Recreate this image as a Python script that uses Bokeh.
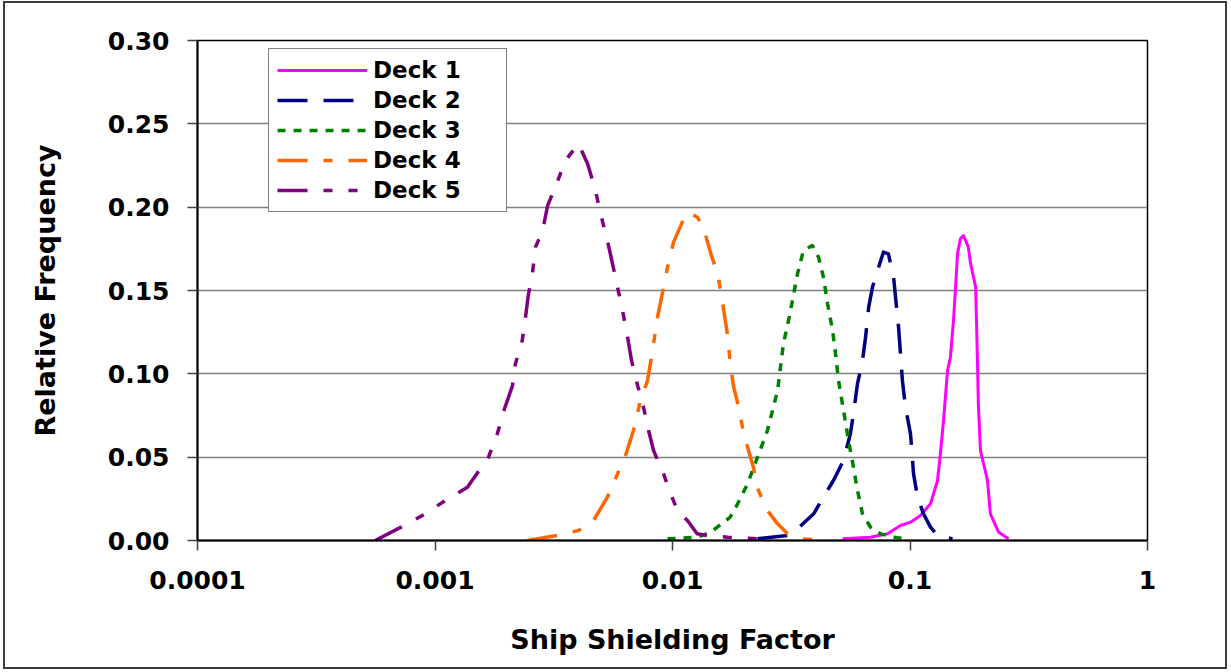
from bokeh.plotting import figure
from bokeh.models import FixedTicker, NumeralTickFormatter, Legend, LegendItem, Range1d
from bokeh.embed import file_html
from bokeh.resources import INLINE

# ---- data ----
x_ticks = [0.0001, 0.001, 0.01, 0.1, 1]
x_tick_labels = ["0.0001", "0.001", "0.01", "0.1", "1"]
y_ticks = [0.0, 0.05, 0.10, 0.15, 0.20, 0.25, 0.30]

names = ["Deck 1", "Deck 2", "Deck 3", "Deck 4", "Deck 5"]

deck1_x = [5.20e-2, 6.82e-2, 8.04e-2, 9.12e-2, 0.1005, 0.1107, 0.122, 0.1306, 0.1343, 0.1384,
           0.1439, 0.148, 0.1524, 0.1556, 0.1585, 0.163, 0.168, 0.176, 0.180, 0.189,
           0.192, 0.194, 0.198, 0.212, 0.218, 0.236, 0.260]
deck1_y = [0.001, 0.002, 0.004, 0.009, 0.011, 0.015, 0.022, 0.036, 0.052, 0.072,
           0.102, 0.110, 0.132, 0.152, 0.172, 0.181, 0.183, 0.176, 0.166, 0.152,
           0.112, 0.082, 0.054, 0.036, 0.016, 0.005, 0.001]

deck2_x = [2.28e-2, 3.05e-2, 3.36e-2, 3.93e-2, 4.32e-2, 4.76e-2, 5.25e-2, 5.61e-2, 5.78e-2, 6.01e-2,
           6.31e-2, 6.50e-2, 6.70e-2, 6.95e-2, 7.30e-2, 7.73e-2, 8.11e-2, 8.53e-2, 8.69e-2, 8.95e-2,
           9.29e-2, 9.57e-2, 0.1005, 0.1035, 0.1076, 0.114, 0.122, 0.1306, 0.151]
deck2_y = [0.001, 0.003, 0.007, 0.016, 0.026, 0.036, 0.048, 0.064, 0.076, 0.094,
           0.108, 0.122, 0.140, 0.152, 0.162, 0.173, 0.172, 0.158, 0.146, 0.128,
           0.096, 0.080, 0.064, 0.040, 0.026, 0.016, 0.008, 0.003, 0.001]

deck3_x = [9.53e-3, 1.27e-2, 1.45e-2, 1.75e-2, 1.88e-2, 2.07e-2, 2.28e-2, 2.51e-2, 2.77e-2, 2.93e-2,
           3.08e-2, 3.20e-2, 3.36e-2, 3.56e-2, 3.88e-2, 4.12e-2, 4.32e-2, 4.50e-2, 4.72e-2, 4.86e-2,
           5.00e-2, 5.25e-2, 5.51e-2, 5.78e-2, 6.01e-2, 6.31e-2, 6.82e-2, 7.52e-2, 8.53e-2, 9.76e-2]
deck3_y = [0.001, 0.002, 0.005, 0.014, 0.022, 0.034, 0.050, 0.066, 0.090, 0.118,
           0.132, 0.144, 0.160, 0.174, 0.177, 0.170, 0.158, 0.142, 0.126, 0.112,
           0.096, 0.078, 0.060, 0.044, 0.030, 0.016, 0.008, 0.004, 0.002, 0.001]

deck4_x = [2.45e-3, 3.28e-3, 4.02e-3, 4.65e-3, 5.32e-3, 5.87e-3, 6.34e-3, 6.85e-3, 7.33e-3, 7.85e-3,
           8.24e-3, 8.65e-3, 9.17e-3, 9.53e-3, 1.01e-2, 1.10e-2, 1.167e-2, 1.27e-2, 1.35e-2, 1.45e-2,
           1.55e-2, 1.62e-2, 1.71e-2, 1.75e-2, 1.81e-2, 1.90e-2, 1.97e-2, 2.07e-2, 2.19e-2, 2.30e-2,
           2.51e-2, 2.77e-2, 3.05e-2, 3.46e-2, 4.50e-2]
deck4_y = [0.000, 0.003, 0.006, 0.012, 0.026, 0.040, 0.051, 0.066, 0.084, 0.096,
           0.114, 0.134, 0.152, 0.164, 0.179, 0.191, 0.197, 0.194, 0.188, 0.172,
           0.160, 0.144, 0.122, 0.106, 0.092, 0.080, 0.068, 0.056, 0.044, 0.030,
           0.018, 0.010, 0.004, 0.001, 0.000]

deck5_x = [5.6e-4, 7.2e-4, 8.85e-4, 1.105e-3, 1.37e-3, 1.68e-3, 1.83e-3, 1.94e-3, 2.12e-3, 2.18e-3,
           2.33e-3, 2.40e-3, 2.47e-3, 2.57e-3, 2.65e-3, 2.84e-3, 2.98e-3, 3.21e-3, 3.54e-3, 4.02e-3,
           4.39e-3, 4.74e-3, 4.98e-3, 5.32e-3, 5.59e-3, 5.87e-3, 6.16e-3, 6.47e-3, 6.72e-3, 7.13e-3,
           7.55e-3, 7.93e-3, 8.32e-3, 9.17e-3, 9.82e-3, 1.05e-2, 1.156e-2, 1.27e-2, 1.40e-2, 1.71e-2,
           2.28e-2]
deck5_y = [0.000, 0.008, 0.015, 0.024, 0.032, 0.050, 0.064, 0.077, 0.093, 0.106,
           0.120, 0.133, 0.147, 0.160, 0.176, 0.186, 0.201, 0.212, 0.228, 0.238,
           0.226, 0.210, 0.196, 0.180, 0.166, 0.152, 0.138, 0.122, 0.108, 0.093,
           0.080, 0.066, 0.054, 0.040, 0.028, 0.018, 0.012, 0.004, 0.003, 0.002,
           0.001]

series_x = [deck1_x, deck2_x, deck3_x, deck4_x, deck5_x]
series_y = [deck1_y, deck2_y, deck3_y, deck4_y, deck5_y]

# ---- styles ----
colors = ["#FF00FF", "#000080", "#008000", "#FF6600", "#800080"]
dashes = ["solid", "30 16", "8 8", "30 16 9 16", "30 16 9 16 9 16"]
widths = [3.0, 3.5, 3.5, 3.5, 3.5]
FONT = "DejaVu Sans"

p = figure(width=1224, height=668, x_axis_type="log",
           x_range=Range1d(1e-4, 1), y_range=Range1d(0, 0.30),
           output_backend="svg", toolbar_location=None,
           min_border_left=192, min_border_right=82,
           min_border_top=37, min_border_bottom=131)
p.styles = {"border": "2px solid #3c3c3c", "margin-left": "3px", "margin-top": "1px"}

p.background_fill_color = "white"
p.border_fill_color = "white"
p.outline_line_color = "black"
p.outline_line_width = 1.5

p.xgrid.grid_line_color = None
p.ygrid.grid_line_color = "#808080"
p.ygrid.grid_line_width = 1.5
p.ygrid.ticker = FixedTicker(ticks=y_ticks)

# x axis
p.xaxis.ticker = FixedTicker(ticks=x_ticks, minor_ticks=[])
p.xaxis.major_label_overrides = {t: l for t, l in zip(x_ticks, x_tick_labels)}
p.xaxis.axis_label = "Ship Shielding Factor"
# y axis
p.yaxis.ticker = FixedTicker(ticks=y_ticks, minor_ticks=[])
p.yaxis.formatter = NumeralTickFormatter(format="0.00")
p.yaxis.axis_label = "Relative Frequency"

for ax in (p.xaxis[0], p.yaxis[0]):
    ax.axis_line_color = "black"
    ax.axis_line_width = 2
    ax.major_tick_line_color = "#404040"
    ax.major_tick_line_width = 1.5
    ax.major_tick_in = 0
    ax.major_tick_out = 10
    ax.minor_tick_line_color = None
    ax.major_label_text_font = FONT
    ax.major_label_text_font_style = "bold"
    ax.major_label_text_font_size = "25px"
    ax.major_label_text_color = "black"
    ax.axis_label_text_font = FONT
    ax.axis_label_text_font_style = "bold"
    ax.axis_label_text_font_size = "27px"
    ax.axis_label_text_color = "black"

p.xaxis.major_label_standoff = 20
p.xaxis.axis_label_standoff = 32
p.yaxis.major_label_standoff = 18
p.yaxis.axis_label_standoff = 44

items = []
for name, xs, ys, c, d, w in zip(names, series_x, series_y, colors, dashes, widths):
    r = p.line(xs, ys, line_color=c, line_width=w, line_dash=d, line_join="round")
    items.append(LegendItem(label=name, renderers=[r]))

legend = Legend(items=items, location=(71, 328), orientation="vertical",
                glyph_width=90, glyph_height=26, label_height=26, spacing=4,
                padding=8, margin=0, label_standoff=6, label_width=125,
                label_text_font=FONT, label_text_font_style="bold",
                label_text_font_size="23px", label_text_color="black",
                border_line_color="black", border_line_width=1.5,
                background_fill_color="white", background_fill_alpha=1.0)
p.add_layout(legend, "center")

open("out.html", "w").write(file_html(p, INLINE))
